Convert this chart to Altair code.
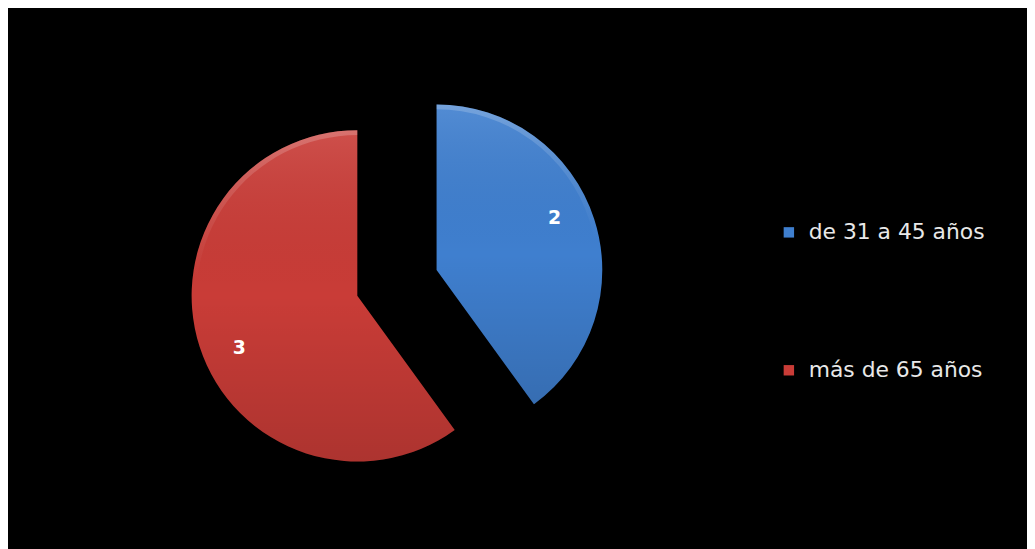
import altair as alt
import pandas as pd

# ---- data ----
categories = ["de 31 a 45 años", "más de 65 años"]
values = [2, 3]
order = [0, 1]
colors = ["#3f7fcf", "#c93c37"]

# ---- layout constants (pixels inside the chart) ----
W, H = 1027, 541
CX, CY = 392, 275      # centre of the un-exploded pie
R = 167                # pie radius
EXPLODE = 42           # slice pull-out distance
LABEL_R = 130          # data-label distance from slice apex
LABEL_SHIFT = -0.1     # data-label angular shift (radians)

df = pd.DataFrame({"cat": categories, "value": values, "ord": order})

base = (
    alt.Chart(df)
    .transform_joinaggregate(total="sum(value)")
    .transform_window(cum="sum(value)", sort=[alt.SortField("ord")], frame=[None, 0])
    .transform_calculate(
        a0="(datum.cum - datum.value) / datum.total * 2 * PI",
        a1="datum.cum / datum.total * 2 * PI",
    )
    .transform_calculate(mid="(datum.a0 + datum.a1) / 2")
    .transform_calculate(
        cx=f"{CX} + {EXPLODE} * sin(datum.mid)",
        cy=f"{CY} - {EXPLODE} * cos(datum.mid)",
        lab=f"(datum.a0 + datum.a1) / 2 + {LABEL_SHIFT}",
    )
)

pos = dict(
    x=alt.X("cx:Q", scale=None, axis=None),
    y=alt.Y("cy:Q", scale=None, axis=None),
)

slices = base.mark_arc(radius=R, stroke=None).encode(
    theta=alt.Theta("a0:Q", scale=None, stack=False),
    theta2="a1:Q",
    color=alt.Color(
        "cat:N",
        scale=alt.Scale(domain=categories, range=colors),
        sort=categories,
        legend=alt.Legend(
            title=None,
            orient="none",
            legendX=776,
            legendY=213,
            symbolType="square",
            symbolSize=110,
            symbolStrokeWidth=0,
            symbolOpacity=1,
            labelColor="#e8e8e8",
            labelFont="DejaVu Sans",
            labelFontSize=22,
            labelOffset=9,
            rowPadding=117,
            labelLimit=400,
        ),
    ),
    **pos,
)

shade = base.mark_arc(
    radius=R,
    fill=alt.Gradient(
        gradient="linear",
        x1=0, y1=0, x2=0, y2=1,
        stops=[
            alt.GradientStop(color="rgba(255,255,255,0.10)", offset=0),
            alt.GradientStop(color="rgba(0,0,0,0.0)", offset=0.5),
            alt.GradientStop(color="rgba(0,0,0,0.14)", offset=1),
        ],
    ),
).encode(
    theta=alt.Theta("a0:Q", scale=None, stack=False),
    theta2="a1:Q",
    **pos,
)

rim = base.mark_arc(
    radius=R,
    radius2=R - 5,
    fill=alt.Gradient(
        gradient="linear",
        x1=0, y1=0, x2=0, y2=1,
        stops=[
            alt.GradientStop(color="rgba(255,255,255,0.20)", offset=0),
            alt.GradientStop(color="rgba(255,255,255,0.0)", offset=0.45),
            alt.GradientStop(color="rgba(255,255,255,0.0)", offset=1),
        ],
    ),
).encode(
    theta=alt.Theta("a0:Q", scale=None, stack=False),
    theta2="a1:Q",
    **pos,
)

labels = base.mark_text(
    font="DejaVu Sans", fontSize=19, fontWeight="bold", color="#ffffff",
    align="center", baseline="middle",
).encode(
    theta=alt.Theta("lab:Q", scale=None, stack=False),
    radius=alt.value(LABEL_R),
    text="value:Q",
    **pos,
)

chart = (
    alt.layer(slices, shade, rim, labels)
    .properties(
        width=W,
        height=H,
        background="#000000",
        padding=0,
        autosize=alt.AutoSizeParams(type="none"),
    )
    .configure_view(stroke=None, fill="#000000")
)

chart.save("out.html", embed_options={"renderer": "svg", "actions": False})
